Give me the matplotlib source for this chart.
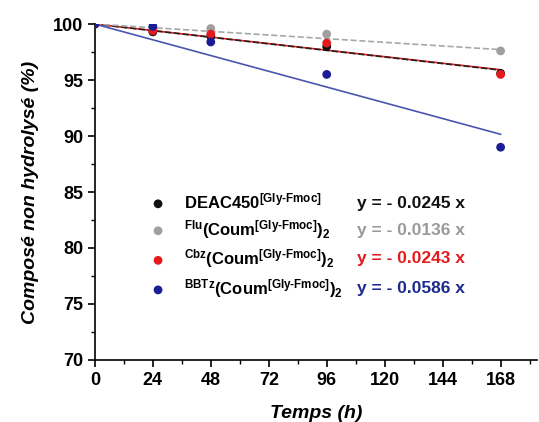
import matplotlib
matplotlib.use("Agg")
from matplotlib import pyplot as plt
from matplotlib.ticker import MultipleLocator
import numpy as np

plt.rcParams['font.family'] = ['Liberation Sans', 'DejaVu Sans']
plt.rcParams['mathtext.fontset'] = 'custom'
plt.rcParams['mathtext.rm'] = 'Liberation Sans:bold'
plt.rcParams['mathtext.bf'] = 'Liberation Sans:bold'
plt.rcParams['mathtext.it'] = 'Liberation Sans:bold:italic'

# time points (h)
hours = [0, 24, 48, 96, 168]

# % of compound not hydrolysed
deac = [100, 99.3, 98.9, 98.0, 95.6]
flu = [100, 99.6, 99.6, 99.1, 97.6]
cbz = [100, 99.4, 99.1, 98.3, 95.5]
bbtz = [100, 99.8, 98.4, 95.5, 89.0]

slopes = [-0.0245, -0.0136, -0.0243, -0.0586]
names = [r'$\mathrm{DEAC450}^{\mathrm{[Gly\text{-}Fmoc]}}$',
         r'$^{\mathrm{Flu}}\mathrm{(Coum}^{\mathrm{[Gly\text{-}Fmoc]}}\mathrm{)}_{\mathrm{2}}$',
         r'$^{\mathrm{Cbz}}\mathrm{(Coum}^{\mathrm{[Gly\text{-}Fmoc]}}\mathrm{)}_{\mathrm{2}}$',
         r'$^{\mathrm{BBTz}}\mathrm{(Coum}^{\mathrm{[Gly\text{-}Fmoc]}}\mathrm{)}_{\mathrm{2}}$']
eq_labels = ['y = - 0.0245 x', 'y = - 0.0136 x', 'y = - 0.0243 x', 'y = - 0.0586 x']

point_colors = ['#111111', '#a0a0a0', '#e41a1c', '#1c1c96']
eq_colors = ['#111111', '#9a9a9a', '#e41a1c', '#1c2a8c']
line_colors = ['#222222', '#a8a8a8', '#e41a1c', '#4a55b0']
line_styles = ['--', '--', '-', '-']

series = [deac, flu, cbz, bbtz]

fig = plt.figure(figsize=(5.39, 4.22), dpi=100)
ax = fig.add_axes([0.176, 0.147, 0.82, 0.796])

xfit = np.array([0, 168])
# red first so the black dashed fit sits on top of it
order = [2, 0, 1, 3]
for i in order:
    ax.plot(xfit, 100 + slopes[i] * xfit, color=line_colors[i], lw=1.2,
            ls=line_styles[i], zorder=2)

handles = []
for i in range(4):
    h = ax.scatter(hours, series[i], s=40, color=point_colors[i], zorder=3,
                   edgecolors='none', label=names[i])
    handles.append(h)

leg = ax.legend(handles=handles, loc='upper left', bbox_to_anchor=(0.109, 0.522),
                frameon=False, fontsize=12, handletextpad=1.08, labelspacing=0.4,
                borderaxespad=0, scatterpoints=1, handlelength=1.0)

eq_y = [0.466, 0.386, 0.303, 0.213]
for i in range(4):
    ax.text(0.593, eq_y[i], eq_labels[i], transform=ax.transAxes,
            color=eq_colors[i], fontsize=12.5, fontweight='bold', va='center')

ax.set_xlim(0, 183)
ax.set_ylim(70, 100)
ax.xaxis.set_major_locator(MultipleLocator(24))
ax.xaxis.set_minor_locator(MultipleLocator(12))
ax.yaxis.set_major_locator(MultipleLocator(5))
ax.yaxis.set_minor_locator(MultipleLocator(2.5))
ax.tick_params(which='major', length=5, width=1.2, labelsize=13, direction='out')
ax.tick_params(which='minor', length=3, width=1.0, direction='out')
for lab in ax.get_xticklabels() + ax.get_yticklabels():
    lab.set_fontweight('bold')

ax.spines['top'].set_visible(False)
ax.spines['right'].set_visible(False)
ax.spines['left'].set_linewidth(1.2)
ax.spines['bottom'].set_linewidth(1.2)

ax.set_xlabel('Temps (h)', fontsize=14, fontweight='bold', style='italic', labelpad=12)
ax.set_ylabel('Composé non hydrolysé (%)', fontsize=14, fontweight='bold', style='italic', labelpad=10)

fig.savefig('out.png', dpi=100)
